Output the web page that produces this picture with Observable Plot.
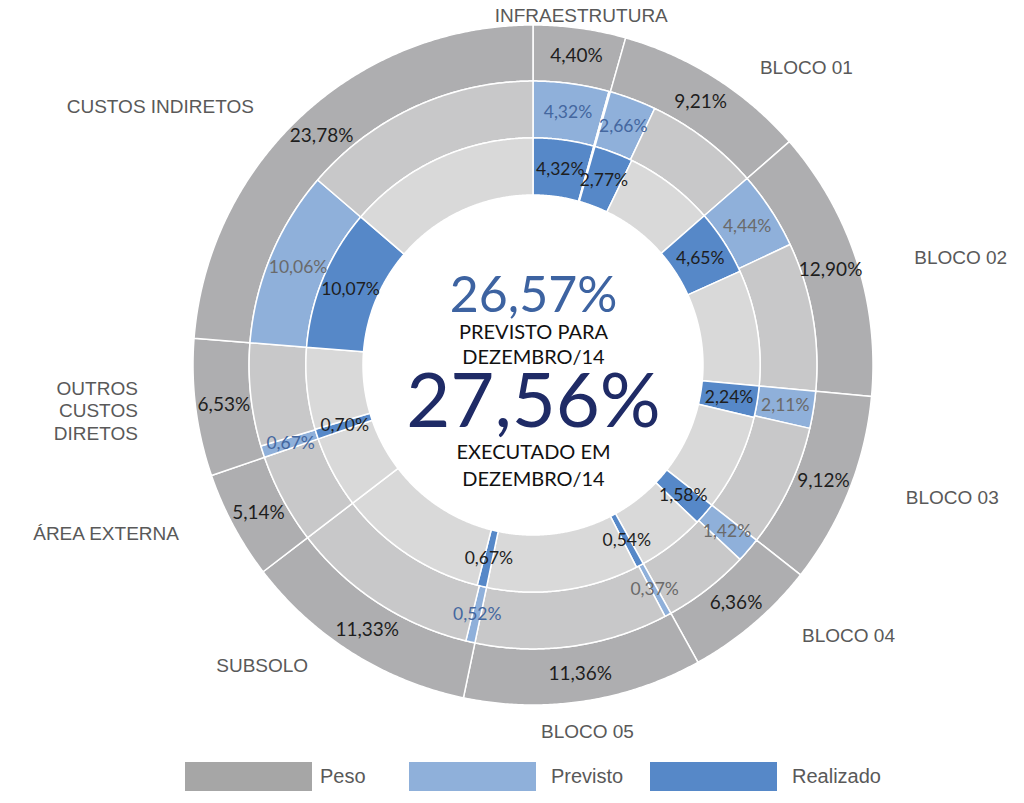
<!DOCTYPE html>
<html>
<head>
<meta charset="utf-8">
<script src="https://cdn.jsdelivr.net/npm/d3@7"></script>
<script src="https://cdn.jsdelivr.net/npm/@observablehq/plot@0.6"></script>
<style>
  html, body { margin: 0; padding: 0; background: #fff; }
  #chart { width: 1024px; }
  #legend { position: relative; height: 50px; font-family: "Liberation Sans", Arial, sans-serif; font-size: 20px; color: #595959; }
  .entry { position: absolute; top: 17px; display: flex; align-items: center; }
  .sw { width: 127px; height: 29px; }
  .lbl { margin-left: 10px; }
</style>
</head>
<body>
<div id="chart"></div>
<div id="legend"></div>
<script>
// ---- data ----
const categories = ["INFRAESTRUTURA", "BLOCO 01", "BLOCO 02", "BLOCO 03", "BLOCO 04", "BLOCO 05", "SUBSOLO", "ÁREA EXTERNA", "OUTROS\nCUSTOS\nDIRETOS", "CUSTOS INDIRETOS"];
const peso      = [4.40, 9.21, 12.90, 9.12, 6.36, 11.36, 11.33, 5.14, 6.53, 23.78];
const previsto  = [4.32, 2.66, 4.44, 2.11, 1.42, 0.37, 0.52, 0, 0.67, 10.06];
const realizado = [4.32, 2.77, 4.65, 2.24, 1.58, 0.54, 0.67, 0, 0.70, 10.07];
const totalPrevisto = 26.57;
const totalRealizado = 27.56;
const seriesNames = ["Peso", "Previsto", "Realizado"];

// ---- styles ----
const colors = {
  peso: "#aeaeb0", pesoLegend: "#a6a6a6",
  midGray: "#c8c8c9", innerGray: "#d9d9d9",
  previsto: "#8fb0da", realizado: "#5688c8"
};
const previstoBlueLabels = new Set(["INFRAESTRUTURA", "BLOCO 01", "SUBSOLO", "OUTROS\nCUSTOS\nDIRETOS"]);
const rings = { outer: [0.835, 1], middle: [0.668, 0.835], inner: [0.5, 0.668] };

const fmt = v => v.toFixed(2).replace(".", ",") + "%";
const total = d3.sum(peso);
const angle = d3.scaleLinear().domain([0, total]).range([0, 2 * Math.PI]);
const starts = [0, ...Array.from(d3.cumsum(peso))];

// segments
const segments = [];
categories.forEach((c, i) => {
  const s = starts[i], e = starts[i] + peso[i];
  segments.push({id: "o" + i, ring: rings.outer, a0: s, a1: e, color: colors.peso});
  if (previsto[i] > 0) segments.push({id: "mp" + i, ring: rings.middle, a0: s, a1: s + previsto[i], color: colors.previsto});
  segments.push({id: "mg" + i, ring: rings.middle, a0: s + previsto[i], a1: e, color: colors.midGray});
  if (realizado[i] > 0) segments.push({id: "ip" + i, ring: rings.inner, a0: s, a1: s + realizado[i], color: colors.realizado});
  segments.push({id: "ig" + i, ring: rings.inner, a0: s + realizado[i], a1: e, color: colors.innerGray});
});
const pts = [];
for (const sg of segments) {
  const n = Math.max(2, Math.ceil((sg.a1 - sg.a0) / 0.1) + 1);
  for (let k = 0; k < n; k++) {
    const t = angle(sg.a0 + (sg.a1 - sg.a0) * k / (n - 1));
    pts.push({id: sg.id, color: sg.color,
      xo: sg.ring[1] * Math.sin(t), yo: sg.ring[1] * Math.cos(t),
      xi: sg.ring[0] * Math.sin(t), yi: sg.ring[0] * Math.cos(t)});
  }
}
const polar = (v, rx, ry = rx) => ({x: rx * Math.sin(angle(v)), y: ry * Math.cos(angle(v))});

// labels
const pesoLabels = categories.map((c, i) => ({...polar(starts[i] + peso[i] / 2, 0.918), text: fmt(peso[i])}));
const prevLabels = categories.map((c, i) => ({...polar(starts[i] + previsto[i] / 2, 0.75), text: fmt(previsto[i]), v: previsto[i], blue: previstoBlueLabels.has(c)})).filter(d => d.v > 0);
const realLabels = categories.map((c, i) => ({...polar(starts[i] + realizado[i] / 2, 0.583), text: fmt(realizado[i]), v: realizado[i]})).filter(d => d.v > 0);

const catLabels = categories.map((c, i) => {
  const mid = starts[i] + peso[i] / 2;
  const t = angle(mid);
  const s = Math.sin(t);
  const side = Math.abs(s) < 0.35 ? "middle" : (s > 0 ? "start" : "end");
  const top = Math.cos(t) > 0;
  const p = side === "middle" ? polar(mid, top ? 1.02 : 1.06) : polar(mid, 1.09, 1.04);
  return {...p, text: c, side, top};
});

const catFont = {fontFamily: "Liberation Sans, Arial, sans-serif", fontSize: 19, fill: "#595959", lineHeight: 1.2};
const lblFont = {fontFamily: "Lato, sans-serif"};

const chart = Plot.plot({
  width: 1024, height: 745,
  marginLeft: 193, marginRight: 151, marginTop: 25, marginBottom: 40,
  x: {domain: [-1, 1], axis: null},
  y: {domain: [-1, 1], axis: null},
  color: {type: "identity"},
  marks: [
    Plot.area(pts, {x1: "xo", y1: "yo", x2: "xi", y2: "yi", z: "id", fill: "color", stroke: "white", strokeWidth: 1.5, curve: "linear"}),
    Plot.text(pesoLabels, {x: "x", y: "y", text: "text", ...lblFont, fontSize: 19, fill: "#1e1e1e"}),
    Plot.text(prevLabels, {x: "x", y: "y", text: "text", ...lblFont, fontSize: 17.5, fill: d => d.blue ? "#44679f" : "#6a6a6a"}),
    Plot.text(realLabels, {x: "x", y: "y", text: "text", ...lblFont, fontSize: 17.5, fill: "#1e1e1e"}),
    Plot.text(catLabels.filter(d => d.side === "middle" && d.top), {x: "x", y: "y", text: "text", ...catFont, textAnchor: "middle", lineAnchor: "bottom"}),
    Plot.text(catLabels.filter(d => d.side === "middle" && !d.top), {x: "x", y: "y", text: "text", ...catFont, textAnchor: "middle", lineAnchor: "top"}),
    Plot.text(catLabels.filter(d => d.side === "start"), {x: "x", y: "y", text: "text", ...catFont, textAnchor: "start", dx: 28}),
    Plot.text(catLabels.filter(d => d.side === "end"), {x: "x", y: "y", text: "text", ...catFont, textAnchor: "end", dx: -28}),
    Plot.text([fmt(totalPrevisto)], {frameAnchor: "middle", dy: -70, ...lblFont, fontSize: 50, fill: "#3d63a1"}),
    Plot.text(["PREVISTO PARA"], {frameAnchor: "middle", dy: -33, ...lblFont, fontSize: 20, fill: "#111"}),
    Plot.text(["DEZEMBRO/14"], {frameAnchor: "middle", dy: -8, ...lblFont, fontSize: 20, fill: "#111"}),
    Plot.text([fmt(totalRealizado)], {frameAnchor: "middle", dy: 37, ...lblFont, fontSize: 76, fill: "#1f2b66"}),
    Plot.text(["EXECUTADO EM"], {frameAnchor: "middle", dy: 87, ...lblFont, fontSize: 20, fill: "#111"}),
    Plot.text(["DEZEMBRO/14"], {frameAnchor: "middle", dy: 114, ...lblFont, fontSize: 20, fill: "#111"})
  ]
});
document.getElementById("chart").appendChild(chart);

// legend
const legend = document.getElementById("legend");
const legendColors = [colors.pesoLegend, colors.previsto, colors.realizado];
const legendLeft = [185, 409, 650];
const legendGap = [8, 15, 15];
seriesNames.forEach((name, i) => {
  const e = document.createElement("div");
  e.className = "entry";
  e.style.left = legendLeft[i] + "px";
  e.innerHTML = `<div class="sw" style="background:${legendColors[i]}"></div><span class="lbl" style="margin-left:${legendGap[i]}px">${name}</span>`;
  legend.appendChild(e);
});
</script>
</body>
</html>
